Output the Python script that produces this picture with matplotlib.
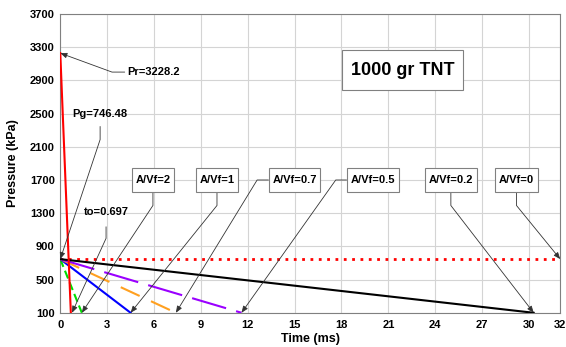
import matplotlib
matplotlib.use('Agg')
import matplotlib.pyplot as plt

plt.rcParams['font.family'] = ['Liberation Sans', 'DejaVu Sans']
plt.rcParams['font.weight'] = 'bold'
plt.rcParams['axes.labelweight'] = 'bold'

# reflected pressure (positive phase)
t_refl = [0, 0.697]
p_refl = [3228.2, 0]

# quasi-static gas pressure, A/Vf=0 (no venting)
t_gas = [0, 32]
p_gas = [746.48, 746.48]

# venting decay lines, one per A/Vf ratio, read where they hit 100 kPa
ratios = ['2', '1', '0.7', '0.5', '0.2']
t_end = [1.38, 4.5, 7.4, 11.6, 30.3]
p_start = 746.48
p_end = 100

colors = ['#00dd00', '#0000ff', '#ffa020', '#9a00ff', 'black']
styles = [(0, (4, 2)), '-', (0, (10, 6)), (0, (17, 5)), '-']

xticks = [0, 3, 6, 9, 12, 15, 18, 21, 24, 27, 30, 32]
yticks = list(range(100, 3701, 400))

fig = plt.figure(figsize=(5.66, 3.47), dpi=100)
ax = fig.add_axes([0.1065, 0.0986, 0.8833, 0.8611])

ax.plot(t_gas, p_gas, color='red', lw=2, ls=(0, (1, 2)), zorder=3)
for i in range(len(ratios)):
    ax.plot([0, t_end[i]], [p_start, p_end], color=colors[i], lw=1.5,
            ls=styles[i], zorder=3)
ax.plot(t_refl, p_refl, color='red', lw=1.5, zorder=4)

ax.set_xlim(0, 32)
ax.set_ylim(100, 3700)
ax.set_xticks(xticks)
ax.set_yticks(yticks)
ax.tick_params(length=0, labelsize=8)
ax.tick_params(axis='x', pad=5)
ax.tick_params(axis='y', pad=4)
for lb in ax.get_xticklabels() + ax.get_yticklabels():
    lb.set_fontweight('bold')
ax.grid(color='#d4d4d4', lw=0.8)
ax.set_axisbelow(True)
for s in ax.spines.values():
    s.set_color('#808080')
    s.set_linewidth(0.8)
ax.set_xlabel('Time (ms)', fontsize=9, labelpad=2, fontweight='bold')
ax.set_ylabel('Pressure (kPa)', fontsize=9, labelpad=8, fontweight='bold')


def callout(text, xy, xytext, angle, arm, box, pad):
    if box:
        bb = dict(boxstyle='square,pad=%g' % pad, fc='white', ec='#808080',
                  lw=0.8, mutation_aspect=2.0)
    else:
        bb = dict(boxstyle='square,pad=%g' % pad, fc='none', ec='none')
    ax.annotate(text, xy=xy, xytext=xytext, fontsize=8, ha='center',
                va='center', bbox=bb, zorder=6, fontweight='bold',
                arrowprops=dict(arrowstyle='-|>,head_length=0.5,head_width=0.2',
                                color='#333333', lw=0.6, shrinkA=0, shrinkB=0,
                                connectionstyle='arc,angleA=%g,armA=%g,angleB=0,armB=0,rad=0'
                                % (angle, arm)))


callout('Pr=3228.2', (0, p_refl[0]), (6.0, 3000), 180, 42, False, 0.27)
callout('Pg=746.48', (0, p_start), (2.55, 2500), -90, 26, False, 0.71)
callout('to=0.697', (0.75, p_end), (2.93, 1310), -90, 26, False, 0.85)

box_x = [5.93, 10.03, 15.0, 20.0, 25.0]
box_angle = [-90, -90, 180, 180, -90]
box_arm = [25.5, 25.5, 37.5, 37, 25.5]
for i in range(len(ratios)):
    callout('A/Vf=' + ratios[i], (t_end[i], p_end), (box_x[i], 1700),
            box_angle[i], box_arm[i], True, 0.32)
callout('A/Vf=0', (t_gas[1], p_gas[1]), (29.2, 1700), -90, 25.5, True, 0.32)

ax.text(21.9, 3025, '1000 gr TNT', fontsize=13, ha='center', va='center',
        zorder=6, fontweight='bold',
        bbox=dict(boxstyle='square,pad=0.5', fc='white', ec='#808080',
                  lw=0.8, mutation_aspect=1.25))

fig.savefig('out.png', dpi=100)
